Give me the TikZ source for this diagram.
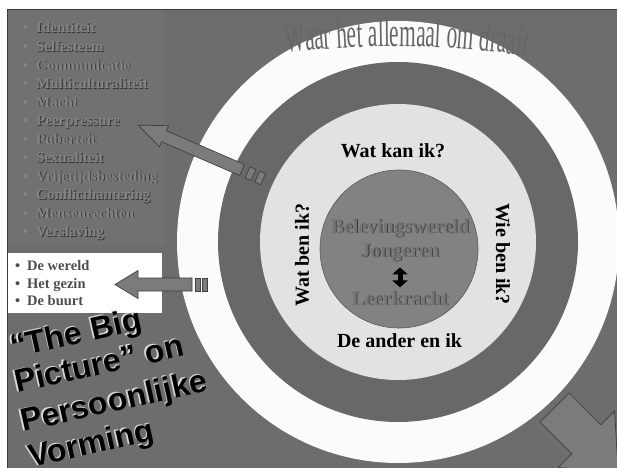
\documentclass[tikz,border=0pt]{standalone}
\usepackage{fontspec}
\setmainfont{Liberation Serif}
\newfontfamily\bigsans{Liberation Sans}
\newfontfamily\archfont[FakeStretch=0.52]{Liberation Serif}
\usetikzlibrary{arrows.meta,decorations.text}

\definecolor{bggray}{HTML}{6D6D6D}
\definecolor{panelgray}{HTML}{717171}
\definecolor{framegray}{HTML}{3A3A3A}
\definecolor{ringwhite}{HTML}{FBFBFB}
\definecolor{ringdark}{HTML}{686868}
\definecolor{ringlight}{HTML}{E2E2E2}
\definecolor{innergray}{HTML}{828282}
\definecolor{innerline}{HTML}{585858}
\definecolor{arrowgray}{HTML}{7B7B7B}
\definecolor{arrowline}{HTML}{3F3F3F}
\definecolor{emblight}{HTML}{838383}
\definecolor{embdark}{HTML}{333333}
\definecolor{innerlight}{HTML}{747474}
\definecolor{boxtext}{HTML}{4D4D4D}
\definecolor{titlegray}{HTML}{666666}
\definecolor{bevelwhite}{HTML}{D8D8D8}

% raised grey letters with a dark edge
\newcommand\embos[2][emblight]{\rlap{\textcolor{embdark}{\raisebox{-0.8pt}{\kern0.8pt#2}}}\textcolor{#1}{#2}}
% black letters with a light edge
\newcommand\bevel[1]{\rlap{\textcolor{bevelwhite}{\raisebox{1.2pt}{\kern-1.2pt#1}}}#1}

\tikzset{
  topic/.style={anchor=base west, inner sep=0pt, font=\bfseries\fontsize{15}{18}\selectfont},
  boxitem/.style={anchor=base west, inner sep=0pt, text=boxtext, font=\bfseries\fontsize{14.5}{17}\selectfont},
  question/.style={inner sep=1pt, text=black, font=\bfseries\fontsize{20}{22}\selectfont},
  innertext/.style={anchor=base, inner sep=1pt, font=\bfseries\fontsize{20}{22}\selectfont},
  bigline/.style={anchor=base west, inner sep=0pt, rotate=12.5, font=\bigsans\bfseries\fontsize{32}{36}\selectfont},
  blockarrow/.style={fill=arrowgray, draw=arrowline, line width=0.7pt, line join=miter},
  twohead/.style={line width=5pt, {Triangle[width=15pt,length=7pt]}-{Triangle[width=15pt,length=7pt]}}
}

\begin{document}
\begin{tikzpicture}[x=1pt,y=1pt]
\clip (0,0) rectangle (617,467);
\fill[white] (0,0) rectangle (617,467);
\draw[fill=bggray, draw=framegray, line width=1pt] (7,-2) rectangle (619,457);
\fill[panelgray] (7.5,222) rectangle (165,456.5);
\fill[white] (8,154) rectangle (162,214);

% the rings
\coordinate (mid) at (398,225);
\fill[ringwhite] (mid) circle[radius=221pt];
\fill[ringdark] (mid) circle[radius=180pt];
\fill[ringlight] (mid) circle[radius=138pt];
\draw[fill=innergray, draw=innerline, line width=0.6pt] (399,218) circle[radius=79pt];

\path[decorate, decoration={text along path, text align=left,
  text={|\archfont\fontsize{41}{43}\selectfont\color{titlegray}|Waar het allemaal om draait}}]
  (286,414) arc[start angle=97, end angle=80, radius=900pt];

\node[question, anchor=base] (kan) at (393,310) {Wat kan ik?};
\node[question, anchor=base] (ander) at (399.5,120) {De ander en ik};
\node[question, rotate=90] (wat) at (302,212) {Wat ben ik?};
\node[question, rotate=-90] (wie) at (503,213) {Wie ben ik?};

\node[innertext] (belev) at (400,234) {\embos[innerlight]{Belevingswereld}};
\node[innertext] (jong) at (400,210) {\embos[innerlight]{Jongeren}};
\node[innertext] (leer) at (400,162) {\embos[innerlight]{Leerkracht}};
\draw[twohead, shorten <=4pt, shorten >=2.5pt] (jong.south) -- (leer.north);

% list on the left
\foreach \topic [count=\i] in {Identiteit, Selfesteem, Communicatie, Multiculturaliteit, Macht,
  Peerpressure, Puberteit, Sexualiteit, Vrijetijdsbesteding, Conflicthantering, Mensenrechten, Verslaving}
  \node[topic] (topic\i) at (36,{434-18.5*(\i-1)}) {\llap{\textcolor{emblight}{\textbullet}\hspace{8pt}}\embos{\topic}};

\foreach \place/\ypos [count=\i] in {De wereld/197, Het gezin/179, De buurt/162}
  \node[boxitem] (place\i) at (27,\ypos) {\llap{\textbullet\hspace{7pt}}\place};

% block arrows
\coordinate (peertail) at (242,297);
\draw[blockarrow, shift={(peertail)}, rotate=156.6] (0,-6) -- (85,-6) -- (85,-11.5) -- (113,0) -- (85,11.5) -- (85,6) -- (0,6) -- cycle;
\draw[blockarrow, shift={(peertail)}, rotate=156.6] (-6,-6) rectangle (-12.5,6) (-16.5,-6) rectangle (-23,6);

\coordinate (boxtail) at (192,182.5);
\draw[blockarrow, shift={(boxtail)}, rotate=180] (0,-6.5) -- (54,-6.5) -- (54,-14) -- (77,0) -- (54,14) -- (54,6.5) -- (0,6.5) -- cycle;
\draw[blockarrow, shift={(boxtail)}, rotate=180] (-3,-6.5) rectangle (-8,6.5) (-10,-6.5) rectangle (-15,6.5);

\coordinate (cornertail) at (554.5,59.5);
\draw[blockarrow, shift={(cornertail)}, rotate=-45] (0,-20.5) -- (45,-20.5) -- (45,-40) -- (90,0) -- (45,40) -- (45,20.5) -- (0,20.5) -- cycle;

% title in the corner
\foreach \words/\px/\py [count=\i] in {{“The Big}/13/109, {Picture” on}/17/74, {Persoonlijke}/23/35, {Vorming}/31/-1}
  \node[bigline] (big\i) at (\px,\py) {\bevel{\words}};
\end{tikzpicture}
\end{document}
